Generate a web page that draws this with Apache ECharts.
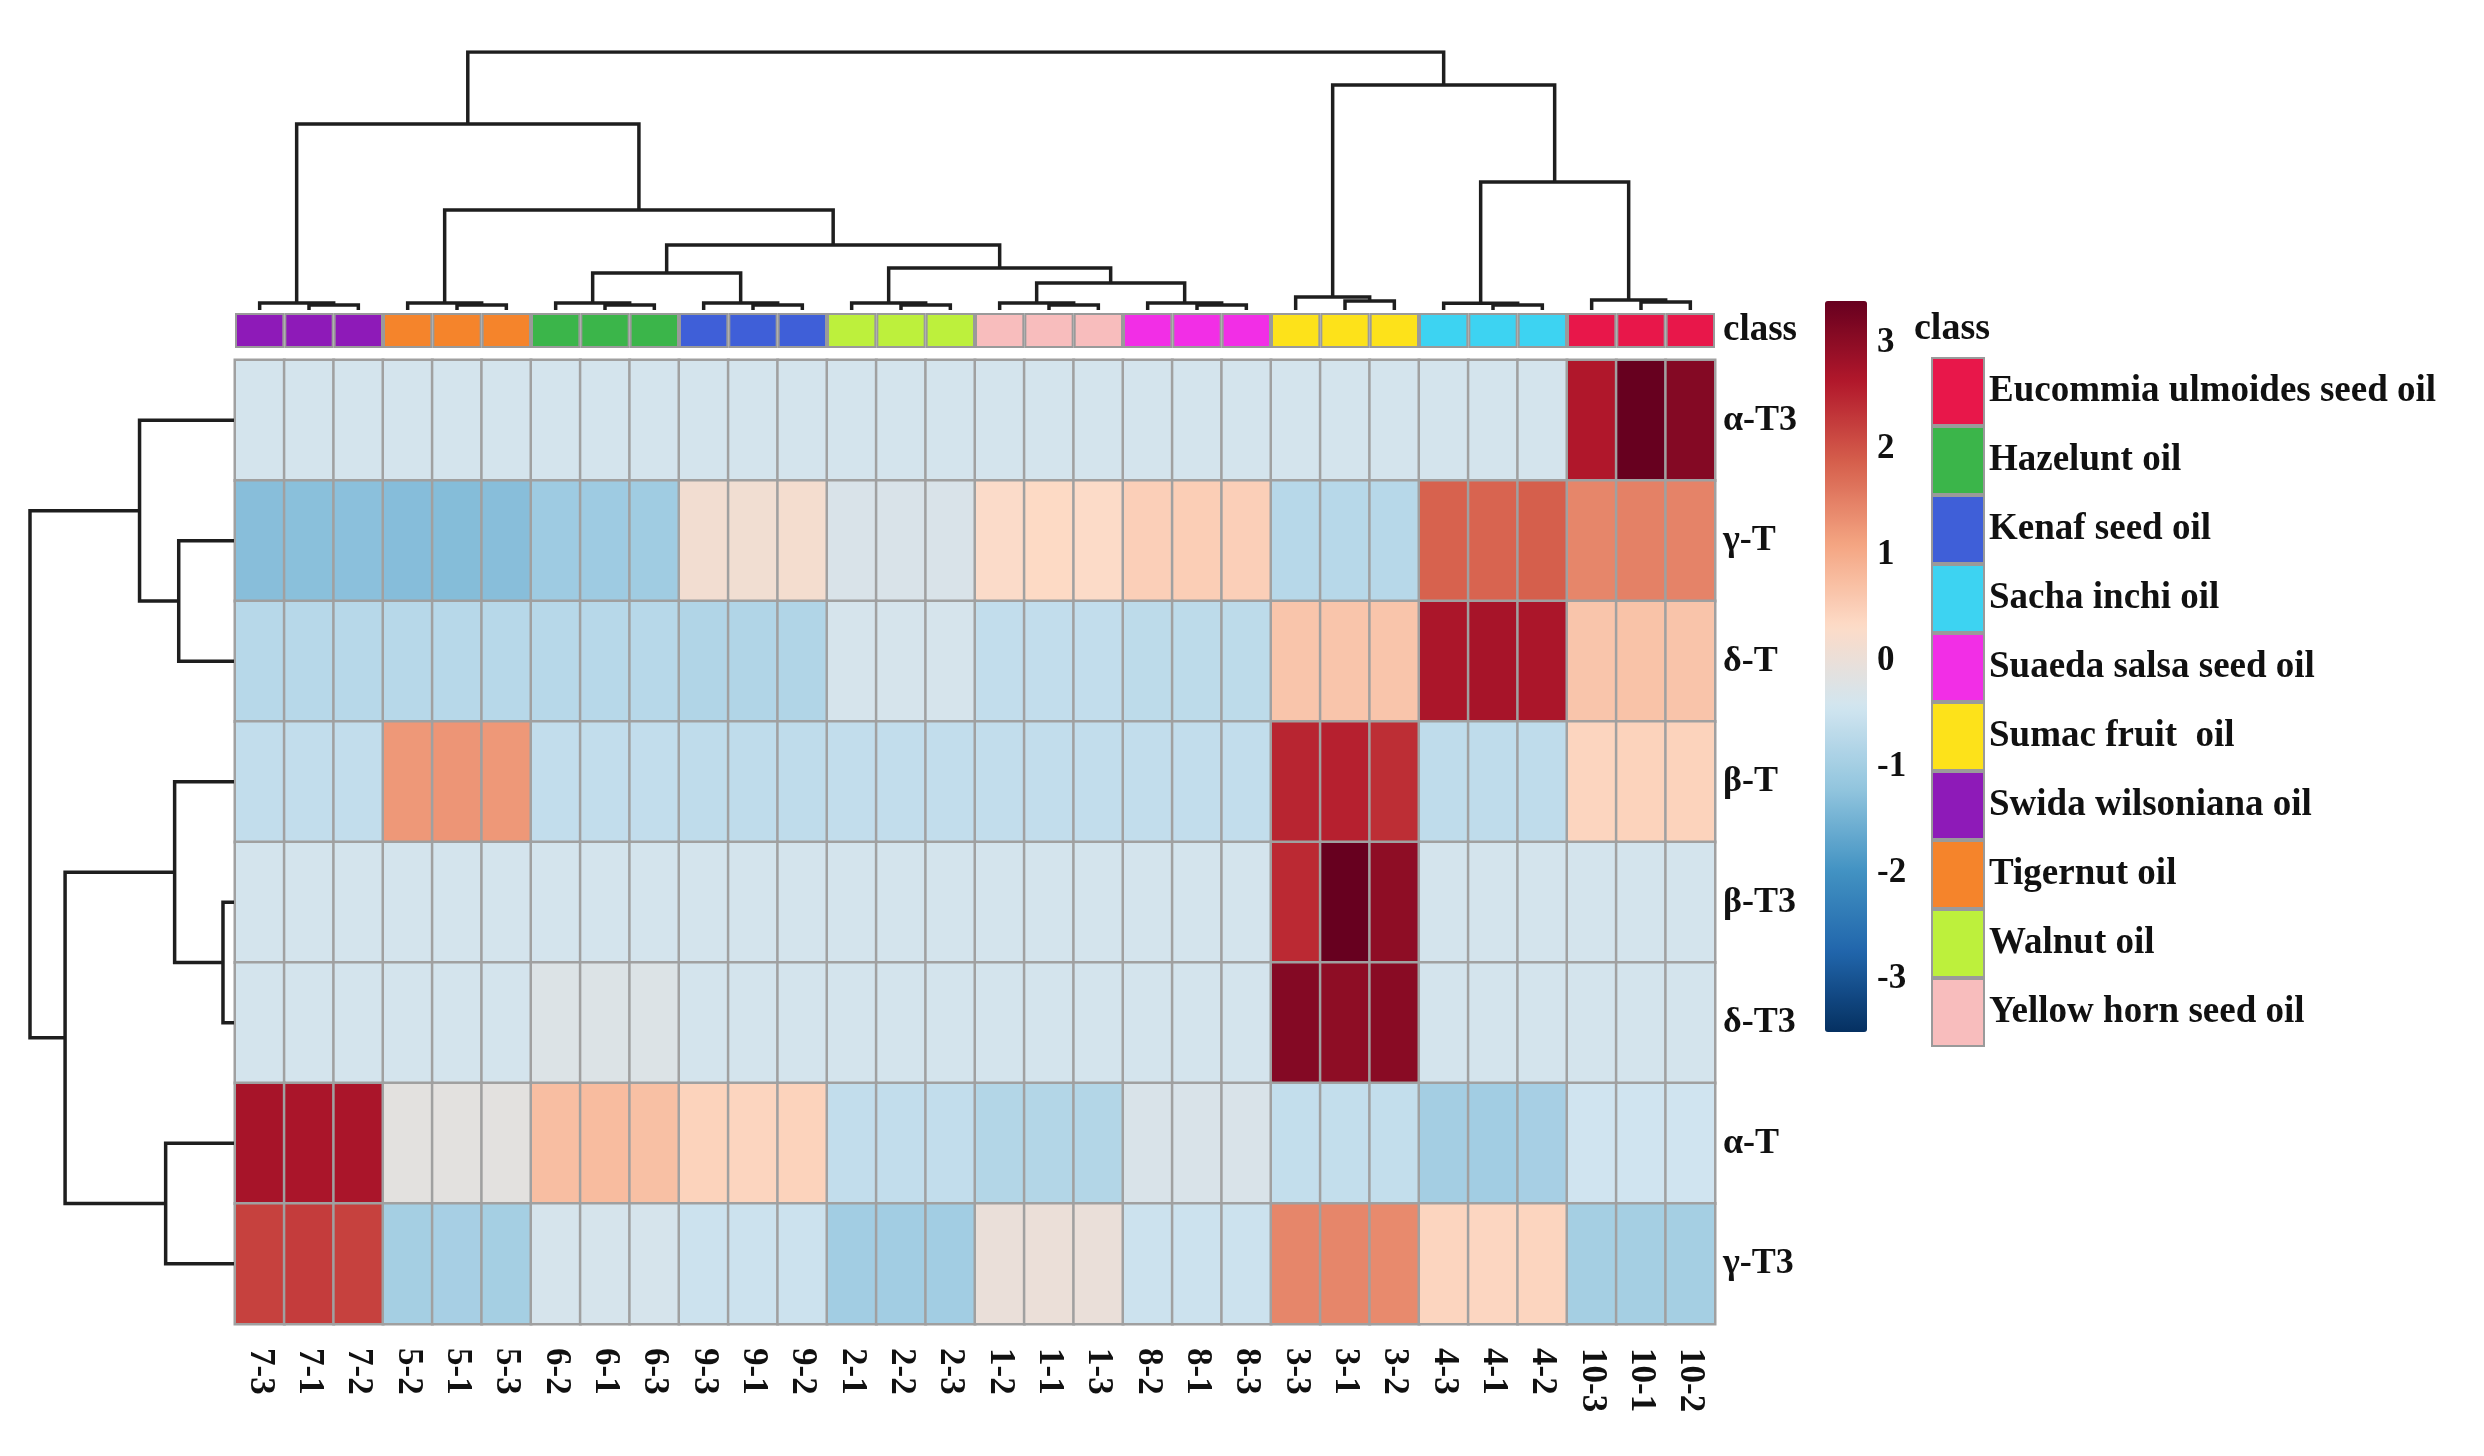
<!DOCTYPE html>
<html>
<head>
<meta charset="utf-8">
<script src="https://cdn.jsdelivr.net/npm/echarts@6/dist/echarts.min.js"></script>
<style>
html,body{margin:0;padding:0;background:#fff;}
#chart{width:2484px;height:1456px;}
</style>
</head>
<body>
<div id="chart"></div>
<script>
// ---------- data ----------
const colLabels = ['7-3','7-1','7-2','5-2','5-1','5-3','6-2','6-1','6-3','9-3','9-1','9-2','2-1','2-2','2-3','1-2','1-1','1-3','8-2','8-1','8-3','3-3','3-1','3-2','4-3','4-1','4-2','10-3','10-1','10-2'];
const rowLabels = ['α-T3','γ-T','δ-T','β-T','β-T3','δ-T3','α-T','γ-T3'];
const classNames = ['Eucommia ulmoides seed oil','Hazelunt oil','Kenaf seed oil','Sacha inchi oil','Suaeda salsa seed oil','Sumac fruit  oil','Swida wilsoniana oil','Tigernut oil','Walnut oil','Yellow horn seed oil'];
const classColors = ['#e8174a','#3bb54a','#3f5fd8','#3dd3f2','#f22ee6','#fde21a','#8e1ab8','#f5842b','#bdf03c','#f8bdbd'];
const colClass = [6,6,6,7,7,7,1,1,1,2,2,2,8,8,8,9,9,9,4,4,4,5,5,5,3,3,3,0,0,0];

const alphaT3 = [-0.38,-0.38,-0.38,-0.38,-0.38,-0.38,-0.38,-0.38,-0.38,-0.38,-0.38,-0.38,-0.38,-0.38,-0.38,-0.38,-0.38,-0.38,-0.38,-0.38,-0.38,-0.38,-0.38,-0.38,-0.38,-0.38,-0.38,2.65,3.4,3.1];
const gammaT  = [-1.30,-1.28,-1.27,-1.32,-1.33,-1.30,-1.05,-1.05,-1.03,0.15,0.12,0.18,-0.30,-0.30,-0.30,0.30,0.35,0.32,0.50,0.52,0.50,-0.75,-0.75,-0.75,1.85,1.82,1.88,1.45,1.50,1.48];
const deltaT  = [-0.75,-0.75,-0.75,-0.75,-0.75,-0.75,-0.75,-0.75,-0.75,-0.82,-0.82,-0.82,-0.35,-0.35,-0.35,-0.62,-0.62,-0.62,-0.68,-0.68,-0.68,0.65,0.65,0.65,2.70,2.75,2.70,0.65,0.68,0.66];
const betaT   = [-0.62,-0.62,-0.62,1.25,1.28,1.25,-0.62,-0.62,-0.62,-0.65,-0.65,-0.65,-0.62,-0.62,-0.62,-0.62,-0.62,-0.62,-0.62,-0.62,-0.62,2.50,2.55,2.40,-0.65,-0.65,-0.65,0.42,0.45,0.45];
const betaT3  = [-0.38,-0.38,-0.38,-0.38,-0.38,-0.38,-0.38,-0.38,-0.38,-0.38,-0.38,-0.38,-0.38,-0.38,-0.38,-0.38,-0.38,-0.38,-0.38,-0.38,-0.38,2.45,3.4,3.0,-0.38,-0.38,-0.38,-0.38,-0.38,-0.38];
const deltaT3 = [-0.38,-0.38,-0.38,-0.38,-0.38,-0.38,-0.25,-0.25,-0.25,-0.38,-0.38,-0.38,-0.38,-0.38,-0.38,-0.38,-0.38,-0.38,-0.38,-0.38,-0.38,3.1,3.0,3.05,-0.38,-0.38,-0.38,-0.38,-0.38,-0.38];
const alphaT  = [2.75,2.72,2.72,-0.12,-0.12,-0.12,0.75,0.78,0.72,0.45,0.42,0.45,-0.62,-0.62,-0.62,-0.80,-0.80,-0.80,-0.30,-0.30,-0.30,-0.60,-0.60,-0.60,-0.98,-1.00,-0.95,-0.45,-0.45,-0.45];
const gammaT3 = [2.20,2.25,2.20,-0.97,-0.95,-0.97,-0.35,-0.35,-0.35,-0.50,-0.50,-0.50,-1.00,-1.00,-1.00,0.00,0.02,0.00,-0.50,-0.50,-0.50,1.45,1.45,1.40,0.42,0.40,0.42,-0.97,-0.97,-0.97];
const rowValues = [alphaT3, gammaT, deltaT, betaT, betaT3, deltaT3, alphaT, gammaT3];

const colorTicks = [-3,-2,-1,0,1,2,3];
const colorMin = -3.5, colorMax = 3.4;
const rdbu = ['#053061','#2166ac','#4393c3','#92c5de','#d1e5f0','#fddbc7','#f4a582','#d6604d','#b2182b','#67001f'];

// dendrograms: [mergeHeight, left, right]; leaves are column / row indices
const colTree = [100,
  [72.1, [2.7, 0, [1.9, 1, 2]],
         [38.8, [2.7, 3, [1.9, 4, 5]],
                [25.2, [14.3, [2.7, 6, [1.9, 7, 8]], [2.7, 9, [1.9, 10, 11]]],
                       [16.3, [2.7, 12, [1.9, 13, 14]],
                              [10.5, [2.7, 15, [1.9, 16, 17]], [2.7, 18, [1.9, 19, 20]]]]]]],
  [87.2, [5.0, 21, [3.5, 22, 23]],
         [49.6, [2.6, 24, [1.9, 25, 26]], [3.9, 27, [3.1, 28, 29]]]]];
const rowTree = [100, [46.3, 0, [27.1, 1, 2]], [82.8, [29.1, 3, [5.4, 4, 5]], [33.5, 6, 7]]];

// ---------- build ----------
function layoutTree(node, out) {
  if (typeof node === 'number') return {pos: node, h: 0};
  const l = layoutTree(node[1], out), r = layoutTree(node[2], out);
  out.push([[l.pos, l.h], [l.pos, node[0]], [r.pos, node[0]], [r.pos, r.h]]);
  return {pos: (l.pos + r.pos) / 2, h: node[0]};
}
const colSegs = []; layoutTree(colTree, colSegs);
const rowSegs = []; layoutTree(rowTree, rowSegs);

const heatData = [];
rowValues.forEach((arr, r) => arr.forEach((v, c) => heatData.push([c, r, v])));

const FONT = 'Liberation Serif';
const txt = (size) => ({fontFamily: FONT, fontWeight: 'bold', fontSize: size, color: '#111'});

const HL = 235, HT = 360, HW = 1480, HH = 964;

const barSeries = classNames.map((name, k) => ({
  type: 'bar', name: name, xAxisIndex: 1, yAxisIndex: 1, stack: 'cls',
  barCategoryGap: '0%', barWidth: '100%', silent: true,
  itemStyle: {color: classColors[k], borderColor: '#9a9a9a', borderWidth: 2},
  data: colClass.map(c => c === k ? 1 : '-')
}));

const option = {
  backgroundColor: '#fff',
  animation: false,
  title: {text: 'class', left: 1914, top: 310, padding: 0, textStyle: txt(38)},
  grid: [
    {left: HL, top: HT, width: HW, height: HH},
    {left: HL, top: 313, width: HW, height: 35},
    {left: HL, top: 52, width: HW, height: 258},
    {left: 30, top: HT, width: 204, height: HH},
    {left: 1825, top: 301, width: 42, height: 731}
  ],
  xAxis: [
    {type: 'category', gridIndex: 0, data: colLabels, position: 'bottom',
     axisLine: {show: false}, axisTick: {show: false}, splitLine: {show: false},
     axisLabel: Object.assign({interval: 0, rotate: -90, margin: 24}, txt(35))},
    {type: 'category', gridIndex: 1, data: colLabels, show: false},
    {type: 'value', gridIndex: 2, min: -0.5, max: 29.5, show: false},
    {type: 'value', gridIndex: 3, min: 0, max: 100, inverse: true, show: false},
    {type: 'value', gridIndex: 4, min: 0, max: 1, show: false}
  ],
  yAxis: [
    {type: 'category', gridIndex: 0, data: rowLabels, inverse: true, position: 'right',
     axisLine: {show: false}, axisTick: {show: false}, splitLine: {show: false},
     axisLabel: Object.assign({margin: 8}, txt(36))},
    {type: 'value', gridIndex: 1, min: 0, max: 1, position: 'right',
     axisLine: {show: false}, axisTick: {show: false}, splitLine: {show: false},
     axisLabel: Object.assign({margin: 8, customValues: [0.5], formatter: () => 'class'}, txt(37))},
    {type: 'value', gridIndex: 2, min: 0, max: 100, show: false},
    {type: 'value', gridIndex: 3, min: -0.5, max: 7.5, inverse: true, show: false},
    {type: 'value', gridIndex: 4, min: colorMin, max: colorMax, position: 'right',
     axisLine: {show: false}, axisTick: {show: false}, splitLine: {show: false},
     axisLabel: Object.assign({margin: 10, customValues: colorTicks}, txt(35))}
  ],
  visualMap: {
    type: 'continuous', seriesIndex: 0, min: colorMin, max: colorMax,
    calculable: false, orient: 'vertical', left: 1825, top: 301,
    itemWidth: 42, itemHeight: 731, padding: 0, inRange: {color: rdbu}
  },
  legend: {
    data: classNames, orient: 'vertical', left: 1931, top: 357,
    icon: 'rect', itemWidth: 52, itemHeight: 67, itemGap: 0, padding: 0,
    selectedMode: false, itemStyle: {borderColor: '#9a9a9a', borderWidth: 2},
    textStyle: txt(37)
  },
  series: [
    {type: 'heatmap', xAxisIndex: 0, yAxisIndex: 0, data: heatData, silent: true,
     itemStyle: {borderColor: '#a0a0a0', borderWidth: 2.5}},
    ...barSeries,
    {type: 'lines', coordinateSystem: 'cartesian2d', xAxisIndex: 2, yAxisIndex: 2,
     polyline: true, silent: true,
     lineStyle: {color: '#1e1e1e', width: 3.5, opacity: 1},
     data: colSegs.map(c => ({coords: c}))},
    {type: 'lines', coordinateSystem: 'cartesian2d', xAxisIndex: 3, yAxisIndex: 3,
     polyline: true, silent: true,
     lineStyle: {color: '#1e1e1e', width: 3.5, opacity: 1},
     data: rowSegs.map(c => ({coords: c.map(p => [p[1], p[0]])}))},
    {type: 'line', xAxisIndex: 4, yAxisIndex: 4, data: [], silent: true}
  ]
};

const chart = echarts.init(document.getElementById('chart'));
chart.setOption(option);
</script>
</body>
</html>
